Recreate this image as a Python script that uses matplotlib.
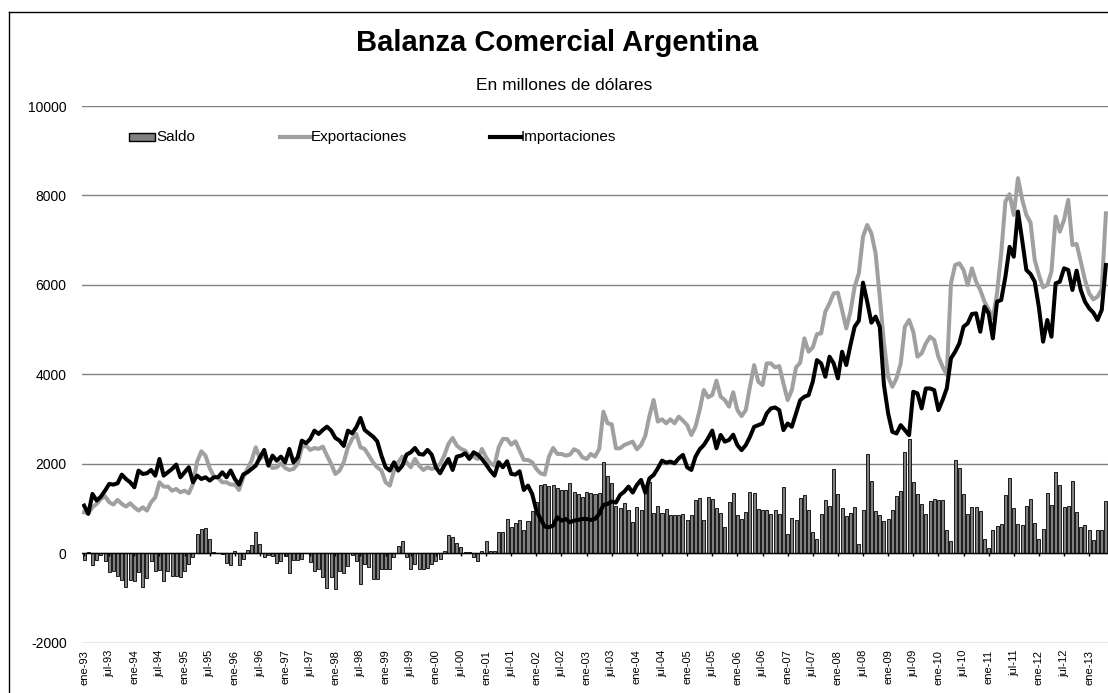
import matplotlib
matplotlib.use("Agg")
import matplotlib.pyplot as plt
from matplotlib.lines import Line2D
from matplotlib.patches import Rectangle

plt.rcParams['font.family'] = ['Liberation Sans', 'DejaVu Sans']
plt.rcParams['axes.unicode_minus'] = False

tick_labels = ['ene-93', 'jul-93', 'ene-94', 'jul-94', 'ene-95', 'jul-95', 'ene-96', 'jul-96',
               'ene-97', 'jul-97', 'ene-98', 'jul-98', 'ene-99', 'jul-99', 'ene-00', 'jul-00',
               'ene-01', 'jul-01', 'ene-02', 'jul-02', 'ene-03', 'jul-03', 'ene-04', 'jul-04',
               'ene-05', 'jul-05', 'ene-06', 'jul-06', 'ene-07', 'jul-07', 'ene-08', 'jul-08',
               'ene-09', 'jul-09', 'ene-10', 'jul-10', 'ene-11', 'jul-11', 'ene-12', 'jul-12',
               'ene-13']

# monthly values, ene-93 .. may-13 (millones de dolares)
exportaciones = [
    916, 894, 1028, 1103, 1214, 1274, 1140, 1088, 1192, 1103, 1043, 1118,
    1028, 954, 1028, 954, 1140, 1252, 1587, 1490, 1490, 1400, 1438, 1363,
    1400, 1341, 1550, 2050, 2280, 2180, 1900, 1720, 1684, 1587, 1587, 1535,
    1535, 1415, 1699, 1885, 2071, 2369, 2108, 2205, 1997, 1907, 1922, 2012,
    1907, 1862, 1885, 1997, 2369, 2406, 2310, 2354, 2332, 2384, 2183, 1997,
    1773, 1848, 2034, 2369, 2555, 2667, 2369, 2332, 2183, 2034, 1922, 1848,
    1587, 1512, 1848, 2034, 2160, 2034, 1922, 2108, 1960, 1862, 1922, 1885,
    1907, 1997, 2183, 2444, 2578, 2406, 2332, 2295, 2160, 2160, 2108, 2332,
    2145, 2012, 1960, 2369, 2555, 2555, 2429, 2503, 2295, 2086, 2086, 2034,
    1885, 1788, 1758, 2160, 2354, 2220, 2220, 2183, 2205, 2325, 2280, 2145,
    2108, 2220, 2160, 2332, 3166, 2906, 2883, 2347, 2347, 2421, 2459, 2496,
    2324, 2421, 2622, 3069, 3427, 2943, 2995, 2906, 2995, 2906, 3055, 2965,
    2868, 2645, 2831, 3204, 3650, 3487, 3539, 3859, 3501, 3427, 3278, 3600,
    3200, 3066, 3200, 3723, 4207, 3834, 3760, 4245, 4245, 4155, 4185, 3797,
    3424, 3648, 4155, 4260, 4804, 4506, 4603, 4901, 4916, 5401, 5588, 5811,
    5826, 5438, 5028, 5401, 5961, 6259, 7080, 7340, 7154, 6706, 5737, 4692,
    3946, 3723, 3909, 4245, 5065, 5215, 4953, 4394, 4469, 4692, 4842, 4767,
    4394, 4170, 3984, 6035, 6445, 6483, 6334, 5998, 6371, 6072, 5886, 5625,
    5453, 5252, 5811, 6707, 7863, 8027, 7564, 8385, 7915, 7564, 7393, 6557,
    6222, 5946, 5998, 6296, 7527, 7191, 7452, 7900, 6893, 6915, 6520, 6110,
    5811, 5677, 5737, 5900, 7600,
]

importaciones = [
    1065, 880, 1326, 1177, 1266, 1400, 1550, 1535, 1565, 1758, 1660, 1587,
    1475, 1848, 1773, 1788, 1862, 1736, 2108, 1736, 1810, 1885, 1982, 1699,
    1810, 1922, 1587, 1736, 1660, 1699, 1624, 1700, 1700, 1810, 1700, 1850,
    1660, 1535, 1760, 1810, 1885, 1960, 2145, 2310, 1960, 2183, 2070, 2160,
    2033, 2332, 2033, 2145, 2518, 2460, 2555, 2742, 2667, 2757, 2830, 2742,
    2578, 2518, 2400, 2742, 2680, 2816, 3025, 2757, 2680, 2608, 2503, 2183,
    1922, 1848, 2034, 1848, 1960, 2205, 2257, 2354, 2220, 2205, 2310, 2205,
    1922, 1788, 1960, 2108, 1862, 2160, 2183, 2235, 2108, 2257, 2205, 2108,
    1982, 1848, 1736, 2034, 1922, 2056, 1773, 1758, 1833, 1415, 1512, 1326,
    954, 767, 596, 581, 618, 805, 730, 767, 693, 730, 745, 767,
    767, 745, 767, 879, 1080, 1103, 1155, 1132, 1304, 1378, 1490, 1356,
    1527, 1639, 1356, 1676, 1751, 1900, 2071, 2026, 2049, 2011, 2123, 2198,
    1922, 1862, 2160, 2324, 2421, 2570, 2742, 2347, 2645, 2496, 2533, 2650,
    2417, 2305, 2417, 2604, 2827, 2865, 2902, 3126, 3238, 3260, 3200, 2753,
    2902, 2827, 3126, 3424, 3499, 3536, 3834, 4319, 4245, 3946, 4394, 4245,
    3909, 4506, 4207, 4655, 5065, 5200, 6050, 5625, 5155, 5290, 5065, 3760,
    3126, 2715, 2678, 2865, 2753, 2641, 3611, 3573, 3238, 3685, 3685, 3648,
    3200, 3424, 3685, 4357, 4506, 4692, 5065, 5140, 5349, 5364, 4953, 5513,
    5364, 4804, 5625, 5662, 6184, 6850, 6630, 7640, 7005, 6334, 6244, 6072,
    5500, 4730, 5215, 4842, 6035, 6072, 6371, 6334, 5886, 6319, 5886, 5625,
    5476, 5379, 5215, 5438, 6445,
]

saldo = [
    -150, 20, -260, -150, -50, -165, -410, -390, -500, -600, -760, -600,
    -625, -425, -745, -550, -165, -390, -370, -625, -390, -500, -500, -540,
    -390, -240, -90, 430, 545, 565, 320, 20, 10, -15, -215, -260,
    60, -260, -125, 75, 195, 470, 210, -75, -50, -60, -225, -165,
    -65, -450, -150, -150, -135, 5, -200, -390, -350, -520, -775, -535,
    -800, -387, -447, -275, -30, -165, -685, -240, -313, -574, -574, -350,
    -350, -350, -90, 171, 283, -90, -350, -238, -350, -350, -328, -238,
    -164, -127, 60, 417, 373, 224, 149, 22, 22, -90, -164, 45,
    283, 60, 60, 470, 470, 767, 581, 670, 745, 522, 715, 954,
    1140, 1535, 1550, 1512, 1535, 1460, 1415, 1415, 1565, 1363, 1326, 1252,
    1378, 1341, 1326, 1341, 2034, 1728, 1579, 1058, 1006, 1118, 969, 708,
    1043, 969, 1416, 1602, 909, 1058, 909, 983, 857, 857, 857, 879,
    745, 857, 1192, 1229, 745, 1267, 1207, 1006, 894, 596, 1155, 1341,
    850, 776, 925, 1373, 1350, 999, 962, 962, 887, 962, 887, 1485,
    440, 798, 753, 1246, 1313, 962, 477, 328, 873, 1186, 1052, 1891,
    1328, 1014, 828, 895, 1044, 216, 977, 2216, 1619, 940, 850, 724,
    776, 962, 1283, 1388, 2268, 2544, 1596, 1335, 1097, 873, 1171, 1223,
    1201, 1201, 515, 276, 2096, 1917, 1320, 873, 1037, 1037, 940, 328,
    127, 515, 604, 664, 1298, 1686, 1022, 664, 642, 1067, 1223, 679,
    328, 552, 1350, 1074, 1820, 1522, 1037, 1067, 1619, 918, 589, 642,
    530, 291, 530, 515, 1164,
]

W, H = 1108, 693
fig = plt.figure(figsize=(W / 100, H / 100), dpi=100)


def fx(x):
    return x / W


def fy(y):
    return 1 - y / H


ax = fig.add_axes([fx(82), fy(642.7), fx(1108) - fx(82), fy(106) - fy(642.7)])
n = len(saldo)
xs = list(range(n))

ax.bar(xs, saldo, width=0.72, color='#808080', edgecolor='black', linewidth=0.6, zorder=2)
ax.plot(xs, exportaciones, color='#a0a0a0', lw=2.9, zorder=3)
ax.plot(xs, importaciones, color='black', lw=2.9, zorder=4)

ax.set_xlim(-0.5, n - 0.5)
ax.set_ylim(-2000, 10000)
ax.set_yticks(list(range(-2000, 10001, 2000)))
ax.yaxis.grid(True, color='#808080', lw=1)
ax.set_axisbelow(True)
for s in ax.spines.values():
    s.set_visible(False)
ax.tick_params(axis='y', length=0, pad=11, labelsize=10)

tick_pos = list(range(0, n, 6))
ax.set_xticks(tick_pos)
ax.set_xticklabels(tick_labels, rotation=90, fontsize=8)
ax.tick_params(axis='x', length=0, pad=5)
ax.axhline(0, color='black', lw=1, zorder=2.5)
ax.vlines(tick_pos, ymin=-70, ymax=0, color='black', lw=1, zorder=2.5)

# title
fig.text(fx(557), fy(43), 'Balanza Comercial Argentina', ha='center', va='center',
         fontsize=21, fontweight='bold')
fig.text(fx(564), fy(85), 'En millones de dólares', ha='center', va='center', fontsize=12.5)

# legend
fig.add_artist(Rectangle((fx(129), fy(141)), fx(155) - fx(129), fy(133) - fy(141),
                         transform=fig.transFigure, facecolor='#808080', edgecolor='black', lw=1))
fig.text(fx(156), fy(137), 'Saldo', ha='left', va='center', fontsize=11)
fig.add_artist(Line2D([fx(280), fx(311)], [fy(137), fy(137)], transform=fig.transFigure,
                      color='#a0a0a0', lw=3))
fig.text(fx(311), fy(137), 'Exportaciones', ha='left', va='center', fontsize=11)
fig.add_artist(Line2D([fx(490), fx(521)], [fy(137), fy(137)], transform=fig.transFigure,
                      color='black', lw=3))
fig.text(fx(521), fy(137), 'Importaciones', ha='left', va='center', fontsize=11)

# outer frame
fig.add_artist(Line2D([fx(9), fx(9)], [fy(12), 0], transform=fig.transFigure, color='black', lw=1))
fig.add_artist(Line2D([fx(9), 1], [fy(12), fy(12)], transform=fig.transFigure, color='black', lw=1))

fig.savefig('out.png', dpi=100)
